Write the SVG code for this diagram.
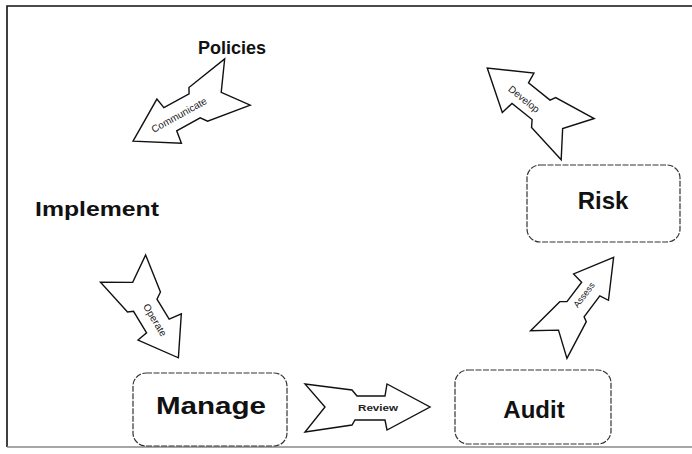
<svg xmlns="http://www.w3.org/2000/svg" xmlns:xlink="http://www.w3.org/1999/xlink" width="692" height="454" viewBox="0 0 692 454">
  <style>
    .frame { fill: none; stroke: #111; stroke-width: 1.6; }
    .box { fill: #fff; stroke: #333; stroke-width: 1.2; stroke-dasharray: 6 1.5; }
    .arrow { fill: #fff; stroke: #111; stroke-width: 1.4; stroke-linejoin: miter; vector-effect: non-scaling-stroke; }
    .title { font-family: "Liberation Sans", Arial, sans-serif; font-weight: bold; fill: #111; text-anchor: middle; }
    .lbl { font-family: "Liberation Sans", Arial, sans-serif; fill: #222; text-anchor: middle; dominant-baseline: central; }
  </style>
  <defs>
    <path id="notchArrow" class="arrow" d="M0,-23 L47,-17 L52,-11 L80,-11 L82,-23 L125,0 L82,23 L80,13 L50,13 L47,18 L0,25 L20,0 Z"/>
  </defs>
  <rect x="0" y="0" width="692" height="454" fill="#fff"/>
  <path class="frame" d="M692,6 H7 V447"/>
  <path d="M7,447 H692" fill="none" stroke="#888" stroke-width="1.4"/>

  <g id="connectors">
    <g id="arrow-communicate">
      <use xlink:href="#notchArrow" transform="translate(238,83) rotate(151) scale(0.96,1.1)"/>
      <text class="lbl" font-size="10" transform="translate(179,115) rotate(-29)">Communicate</text>
    </g>
    <g id="arrow-develop">
      <use xlink:href="#notchArrow" transform="translate(577,140) rotate(218.7) scale(0.92,1.1)"/>
      <text class="lbl" font-size="10" transform="translate(524,99) rotate(38.7)">Develop</text>
    </g>
    <g id="arrow-operate">
      <use xlink:href="#notchArrow" transform="translate(124,268) rotate(58.8) scale(0.84,1.1)"/>
      <text class="lbl" font-size="10" transform="translate(155,320) rotate(58.8)">Operate</text>
    </g>
    <g id="arrow-assess">
      <use xlink:href="#notchArrow" transform="translate(548,344) rotate(-52.9) scale(0.87,0.95)"/>
      <text class="lbl" font-size="9" transform="translate(584,295) rotate(-52.9)">Assess</text>
    </g>
    <g id="arrow-review">
      <use xlink:href="#notchArrow" transform="translate(305,407)"/>
      <text class="lbl" font-size="9" font-weight="bold" x="378" y="408" textLength="40" lengthAdjust="spacingAndGlyphs">Review</text>
    </g>
  </g>

  <g id="node-policies">
    <text class="title" x="232" y="54" font-size="18">Policies</text>
  </g>
  <g id="node-implement">
    <text class="title" x="97" y="216" font-size="20" textLength="124" lengthAdjust="spacingAndGlyphs">Implement</text>
  </g>
  <g id="node-risk">
    <rect class="box" x="527" y="165" width="153" height="77" rx="13"/>
    <text class="title" x="603" y="209" font-size="24">Risk</text>
  </g>
  <g id="node-manage">
    <rect class="box" x="133" y="373" width="154" height="73" rx="13"/>
    <text class="title" x="211" y="414" font-size="24" textLength="110" lengthAdjust="spacingAndGlyphs">Manage</text>
  </g>
  <g id="node-audit">
    <rect class="box" x="455" y="370" width="156" height="74" rx="13"/>
    <text class="title" x="534" y="418" font-size="24">Audit</text>
  </g>
</svg>
